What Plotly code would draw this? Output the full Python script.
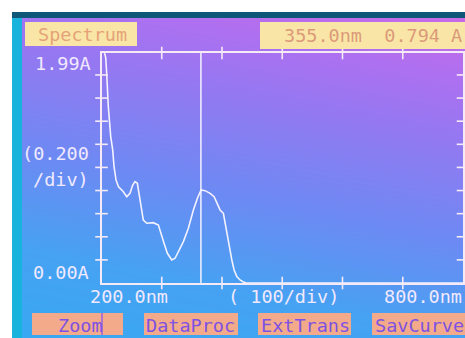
import numpy as np
import plotly.graph_objects as go

W, H = 465, 338

# ---- data ----
wavelength_nm = [205, 207, 208.6, 211.3, 215.3, 218.6, 220.8, 224.1, 228, 236.3, 241.9, 247.3,
                 251.8, 255.6, 259.5, 262.8, 266.8, 269.4, 275.1, 286, 294.4, 298.3, 303.8,
                 309.3, 316.6, 322.1, 329.3, 335.9, 344.2, 352.5, 359.2, 365.3, 371.9, 380.2,
                 386.9, 391.3, 396.8, 402.3, 405.1, 408, 412.3, 416.3, 420.1, 424.6, 430,
                 434.6, 440, 500, 600, 700, 800]
absorbance = [1.99, 1.95, 1.816, 1.526, 1.267, 1.152, 1.007, 0.892, 0.834, 0.790, 0.747, 0.776,
              0.848, 0.877, 0.863, 0.747, 0.632, 0.545, 0.517, 0.522, 0.502, 0.444, 0.344,
              0.257, 0.199, 0.214, 0.286, 0.358, 0.474, 0.632, 0.733, 0.805, 0.799, 0.776,
              0.747, 0.690, 0.632, 0.603, 0.531, 0.430, 0.314, 0.199, 0.113, 0.055, 0.026,
              0.011, 0.0, 0.0, 0.0, 0.0, 0.0]
cursor_nm = 365
x_range = [200, 800]
y_range = [0, 1.99]
x_ticks = [300, 400, 500, 600, 700]
y_ticks = [0.2, 0.4, 0.6, 0.8, 1.0, 1.2, 1.4, 1.6, 1.8]
header_left = "Spectrum"
header_right = "355.0nm  0.794 A"
y_top_label = "1.99A"
y_div_label = ["(0.200", "/div)"]
y_bottom_label = "0.00A"
x_labels = ["200.0nm", "( 100/div)", "800.0nm"]
buttons = ["Zoom", "DataProc", "ExtTrans", "SavCurve"]


def px(x):
    return x / W


def py(y):
    return 1 - y / H


FONT = "DejaVu Sans Mono"
FS = 18.5
WHITE = "#f1e9ff"
LINE = "#f6eaf6"

fig = go.Figure()

# background gradient (screen glow) on primary axes
nx, ny = 40, 30
gx = np.linspace(0, 1, nx)
gy = np.linspace(0, 1, ny)
GX, GY = np.meshgrid(gx, gy)
Z = 0.78 * GY + 0.22 * GX
fig.add_trace(go.Heatmap(
    x=gx, y=gy, z=Z, zsmooth="best", showscale=False, hoverinfo="skip",
    zmin=0, zmax=1,
    colorscale=[[0, "#38a8f2"], [0.22, "#46a2f2"], [0.45, "#6c8af3"],
                [0.7, "#9478f2"], [0.85, "#ad70f0"], [1.0, "#c86ae8"]],
    xaxis="x", yaxis="y"))

# spectrum curve
fig.add_trace(go.Scatter(x=wavelength_nm, y=absorbance, mode="lines",
                         line=dict(color="#f4f2ff", width=1.6),
                         xaxis="x2", yaxis="y2", cliponaxis=True, hoverinfo="skip"))
# cursor
fig.add_trace(go.Scatter(x=[cursor_nm, cursor_nm], y=y_range, mode="lines",
                         line=dict(color="#f4f2ff", width=1.5),
                         xaxis="x2", yaxis="y2", hoverinfo="skip"))
# tick marks
tick_marker = dict(color=LINE, size=9, line=dict(color=LINE, width=1.6))
fig.add_trace(go.Scatter(x=x_ticks * 2, y=[y_range[0]] * len(x_ticks) + [y_range[1]] * len(x_ticks),
                         mode="markers", marker=dict(symbol="line-ns", **tick_marker),
                         xaxis="x2", yaxis="y2", cliponaxis=False, hoverinfo="skip"))
fig.add_trace(go.Scatter(x=[x_range[0]] * len(y_ticks) + [x_range[1]] * len(y_ticks), y=y_ticks * 2,
                         mode="markers", marker=dict(symbol="line-ew", **tick_marker),
                         xaxis="x2", yaxis="y2", cliponaxis=False, hoverinfo="skip"))

shapes = [
    # screen body and bezel
    dict(type="rect", xref="paper", yref="paper", x0=px(12), x1=px(W), y0=py(H), y1=py(12),
         fillcolor="#17b3dc", line=dict(width=0), layer="below"),
    dict(type="rect", xref="paper", yref="paper", x0=px(12), x1=px(W), y0=py(18), y1=py(12),
         fillcolor="#0d5878", line=dict(width=0), layer="below"),
    # header boxes
    dict(type="rect", xref="paper", yref="paper", x0=px(25), x1=px(137), y0=py(46), y1=py(22),
         fillcolor="#f9e6a6", line=dict(width=0)),
    dict(type="rect", xref="paper", yref="paper", x0=px(260), x1=px(W), y0=py(49), y1=py(22),
         fillcolor="#f9e6a6", line=dict(width=0)),
]
btn_x = [(32, 123), (144, 238), (258, 351), (372, 465)]
for (a, b) in btn_x:
    shapes.append(dict(type="rect", xref="paper", yref="paper", x0=px(a), x1=px(b),
                       y0=py(335), y1=py(313), fillcolor="#f2aa8a", line=dict(width=0)))
shapes.append(dict(type="line", xref="paper", yref="paper", x0=px(102), x1=px(102),
                   y0=py(335), y1=py(313), line=dict(color="#9a60e0", width=1.5)))

ann = []


def label(text, x, y, anchor="left", color=WHITE, size=FS):
    ann.append(dict(text=text, x=px(x), y=py(y), xref="paper", yref="paper",
                    xanchor=anchor, yanchor="middle", showarrow=False,
                    font=dict(family=FONT, size=size, color=color)))


label(header_left, 36, 35, color="#e6a278")
label(header_right, 282, 36, color="#dc9a7a")
label(y_top_label, 93, 64, anchor="right")
label(y_div_label[0], 91, 153, anchor="right")
label(y_div_label[1], 91, 179, anchor="right")
label(y_bottom_label, 91, 272, anchor="right")
label(x_labels[0], 88, 296)
label(x_labels[1], 226, 296)
label(x_labels[2], 382, 296)
for name, xl in zip(buttons, [56, 144, 259, 373]):
    label(name, xl, 325, color="#7e52e2")

fig.update_layout(
    width=W, height=H, autosize=False,
    margin=dict(l=0, r=0, t=0, b=0, pad=0),
    paper_bgcolor="white", plot_bgcolor="rgba(0,0,0,0)",
    showlegend=False,
    xaxis=dict(domain=[px(22), 1], range=[0, 1], visible=False, fixedrange=True),
    yaxis=dict(domain=[0, py(18)], range=[0, 1], visible=False, fixedrange=True),
    xaxis2=dict(domain=[px(101.5), px(463)], range=x_range, anchor="y2",
                showline=True, mirror=True, linecolor=LINE, linewidth=2,
                showgrid=False, zeroline=False, showticklabels=False, ticks=""),
    yaxis2=dict(domain=[py(283), py(53)], range=y_range, anchor="x2",
                showline=True, mirror=True, linecolor=LINE, linewidth=2,
                showgrid=False, zeroline=False, showticklabels=False, ticks=""),
    shapes=shapes, annotations=ann,
)

fig.write_html("out.html")
